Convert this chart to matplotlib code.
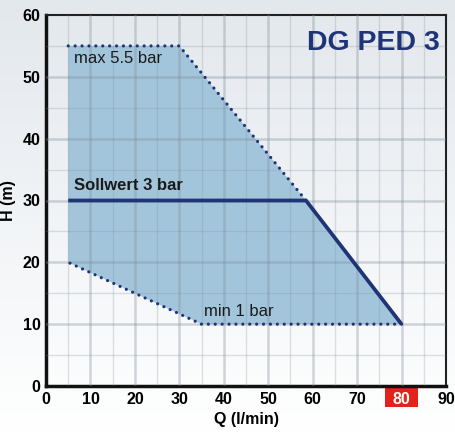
import matplotlib.pyplot as plt
import numpy as np
import matplotlib as mpl
from matplotlib.patches import Rectangle
from matplotlib.transforms import blended_transform_factory

mpl.rcParams.update({
    "font.family": ["Liberation Sans", "DejaVu Sans"],
    "font.size": 11,
})

NAVY = "#1f3377"
FILL = "#a3c5db"
RED = "#e3221b"

# operating envelope (Q in l/min, H in m)
env_q = [5, 30, 58.5, 80, 35, 5]
env_h = [55, 55, 30, 10, 10, 20]
# max pressure boundary
max_q = [5, 30, 58.5]
max_h = [55, 55, 30]
# min pressure boundary
min_q = [80, 35, 5]
min_h = [10, 10, 20]
# set value curve
soll_q = [5, 58.5, 80]
soll_h = [30, 30, 10]

xticks = [0, 10, 20, 30, 40, 50, 60, 70, 80, 90]
yticks = [0, 10, 20, 30, 40, 50, 60]
highlight_q = 80

fig = plt.figure(figsize=(4.55, 4.32), dpi=100)

# background gradient
bg = fig.add_axes([0, 0, 1, 1], zorder=-10)
grad = np.linspace(0, 1, 256).reshape(-1, 1)
cmap = mpl.colors.LinearSegmentedColormap.from_list("bg", ["#e3e8ed", "#ffffff"])
bg.imshow(grad, aspect="auto", cmap=cmap, extent=[0, 1, 0, 1])
bg.axis("off")

ax = fig.add_axes([46 / 455, 1 - 386 / 432, 400 / 455, 371 / 432])
ax.patch.set_alpha(0)
ax.set_xlim(0, 90)
ax.set_ylim(0, 60)

# grid
for v in np.arange(5, 90, 5):
    major = v % 10 == 0
    ax.axvline(v, color="#7f8f9c", lw=1.8 if major else 1.0,
               alpha=0.36 if major else 0.26, zorder=3)
for v in np.arange(5, 60, 5):
    major = v % 10 == 0
    ax.axhline(v, color="#7f8f9c", lw=1.8 if major else 1.0,
               alpha=0.36 if major else 0.26, zorder=3)

dots = (0, (0.01, 2.15))
ax.fill(env_q, env_h, color=FILL, zorder=2, lw=0)
ax.plot(max_q, max_h, color=NAVY, lw=2.3, ls=dots, dash_capstyle="round", zorder=4)
ax.plot(min_q, min_h, color=NAVY, lw=2.3, ls=dots, dash_capstyle="round", zorder=4)
ax.plot(soll_q, soll_h, color=NAVY, lw=2.7, zorder=5, solid_capstyle="butt")

ax.text(6.3, 54.2, "max 5.5 bar", fontsize=12, color="#1a1a1a", va="top", zorder=6)
ax.text(35.5, 10.9, "min 1 bar", fontsize=12, color="#1a1a1a", va="bottom", zorder=6)
ax.text(6.3, 31.2, "Sollwert 3 bar", fontsize=12, fontweight="bold", color="#1a1a1a",
        va="bottom", zorder=6)
ax.text(88.5, 57.6, "DG PED 3", fontsize=20.5, fontweight="bold", color=NAVY,
        ha="right", va="top", zorder=6)

ax.set_xticks(xticks)
ax.set_yticks(yticks)
ax.set_xticklabels([str(t) for t in xticks], fontweight="bold", fontsize=11.5)
ax.set_yticklabels([str(t) for t in yticks], fontweight="bold", fontsize=11.5)
ax.tick_params(length=0, pad=4)
lbl = ax.get_xticklabels()[xticks.index(highlight_q)]
lbl.set_color("white")
tr = blended_transform_factory(ax.transData, ax.transAxes)
ax.add_patch(Rectangle((highlight_q - 3.7, -21 / 371), 7.4, 21 / 371, transform=tr,
                       facecolor=RED, edgecolor="none", clip_on=False, zorder=1))

ax.set_xlabel("Q (l/min)", fontweight="bold", fontsize=11.5, labelpad=4)
ax.set_ylabel("H (m)", fontweight="bold", fontsize=11.5, labelpad=5)

for s in ["left", "bottom"]:
    ax.spines[s].set_linewidth(2.5)
    ax.spines[s].set_color("#111111")
for s in ["top", "right"]:
    ax.spines[s].set_linewidth(1.5)
    ax.spines[s].set_color("#222222")

fig.savefig("out.png", dpi=100)
